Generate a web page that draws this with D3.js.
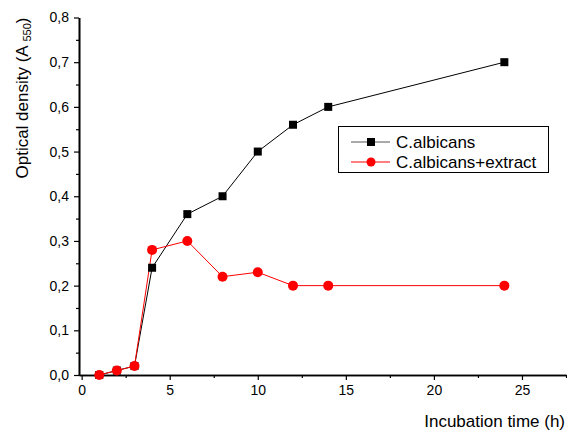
<!DOCTYPE html>
<html>
<head>
<meta charset="utf-8">
<script src="https://cdn.jsdelivr.net/npm/d3@7"></script>
<style>
  body { margin: 0; background: #fff; }
  text { font-family: "Liberation Sans", Arial, sans-serif; }
</style>
</head>
<body>
<div id="chart-area"></div>
<script>
// Data
var hours     = [1, 2, 3, 4, 6, 8, 10, 12, 14, 24];
var albicans  = [0, 0.01, 0.02, 0.24, 0.36, 0.40, 0.50, 0.56, 0.60, 0.70];
var extract   = [0, 0.01, 0.02, 0.28, 0.30, 0.22, 0.23, 0.20, 0.20, 0.20];
var xTicks    = [0, 5, 10, 15, 20, 25];
var yTicks    = [0, 0.1, 0.2, 0.3, 0.4, 0.5, 0.6, 0.7, 0.8];
var seriesNames = ["C.albicans", "C.albicans+extract"];

var W = 567, H = 435;

var svg = d3.select("#chart-area")
	.append("svg")
		.attr("width", W)
		.attr("height", H);

// Scales (pixel range fitted to the reference frame)
var x = d3.scaleLinear().domain([-0.15, 27.5]).range([79, 566]);
var y = d3.scaleLinear().domain([0, 0.8]).range([375, 17.5]);

var fmt = function(d) { return d3.format(".1f")(d).replace(".", ","); };

// x axis
svg.append("g")
	.attr("transform", "translate(0," + y(0) + ")")
	.call(d3.axisBottom(x).tickValues(xTicks).tickSize(5).tickSizeOuter(0).tickPadding(5));
svg.append("g")
	.attr("transform", "translate(0," + y(0) + ")")
	.call(d3.axisBottom(x).tickValues(d3.range(2.5, 27.6, 5)).tickSize(3).tickSizeOuter(0).tickFormat(""));

// y axis
svg.append("g")
	.attr("transform", "translate(" + x.range()[0] + ",0)")
	.call(d3.axisLeft(y).tickValues(yTicks).tickSize(5).tickSizeOuter(0).tickPadding(5).tickFormat(fmt));
svg.append("g")
	.attr("transform", "translate(" + x.range()[0] + ",0)")
	.call(d3.axisLeft(y).tickValues(d3.range(0.05, 0.8, 0.1)).tickSize(3).tickSizeOuter(0).tickFormat(""));

svg.selectAll(".domain").attr("stroke", "#000").attr("stroke-width", 1.6);
svg.selectAll(".tick line").attr("stroke", "#000").attr("stroke-width", 1.2);
svg.selectAll(".tick text")
	.attr("font-size", "14px")
	.attr("fill", "#000")
	.style("font-family", "'Liberation Sans', Arial, sans-serif");

// Axis titles
svg.append("text")
	.attr("x", 565)
	.attr("y", 427)
	.attr("text-anchor", "end")
	.attr("font-size", "17px")
	.text("Incubation time (h)");

var yt = svg.append("text")
	.attr("transform", "translate(28,98) rotate(-90)")
	.attr("text-anchor", "middle")
	.attr("font-size", "17px");
yt.append("tspan").text("Optical density (A ");
yt.append("tspan").attr("font-size", "11px").attr("dy", 3).text("550");
yt.append("tspan").attr("dy", -3).text(")");

// Lines and markers
var series = [
	{ name: seriesNames[0], values: albicans, color: "#000", shape: "square" },
	{ name: seriesNames[1], values: extract,  color: "#ff0000", shape: "circle" }
];

var line = d3.line()
	.x(function(d, i) { return x(hours[i]); })
	.y(function(d) { return y(d); });

series.forEach(function(s) {
	svg.append("path")
		.datum(s.values)
		.attr("fill", "none")
		.attr("stroke", s.color)
		.attr("stroke-width", 1)
		.attr("d", line);
});

series.forEach(function(s) {
	var g = svg.append("g");
	if (s.shape === "square") {
		g.selectAll("rect").data(s.values).enter().append("rect")
			.attr("x", function(d, i) { return x(hours[i]) - 4; })
			.attr("y", function(d) { return y(d) - 4; })
			.attr("width", 8).attr("height", 8)
			.attr("fill", s.color);
	} else {
		g.selectAll("circle").data(s.values).enter().append("circle")
			.attr("cx", function(d, i) { return x(hours[i]); })
			.attr("cy", function(d) { return y(d); })
			.attr("r", 5)
			.attr("fill", s.color);
	}
});

// Legend
var legend = svg.append("g");
legend.append("rect")
	.attr("x", 338.5).attr("y", 126.5)
	.attr("width", 210).attr("height", 46)
	.attr("fill", "#fff").attr("stroke", "#000").attr("stroke-width", 1);

series.forEach(function(s, i) {
	var ly = 142 + i * 20;
	legend.append("line")
		.attr("x1", 351).attr("x2", 390)
		.attr("y1", ly).attr("y2", ly)
		.attr("stroke", i === 0 ? "#555" : s.color).attr("stroke-width", 1);
	if (s.shape === "square") {
		legend.append("rect").attr("x", 367).attr("y", ly - 4).attr("width", 8).attr("height", 8).attr("fill", s.color);
	} else {
		legend.append("circle").attr("cx", 371).attr("cy", ly).attr("r", 4.5).attr("fill", s.color);
	}
	legend.append("text")
		.attr("x", 396).attr("y", ly + 6)
		.attr("font-size", "17px")
		.text(s.name);
});
</script>
</body>
</html>
